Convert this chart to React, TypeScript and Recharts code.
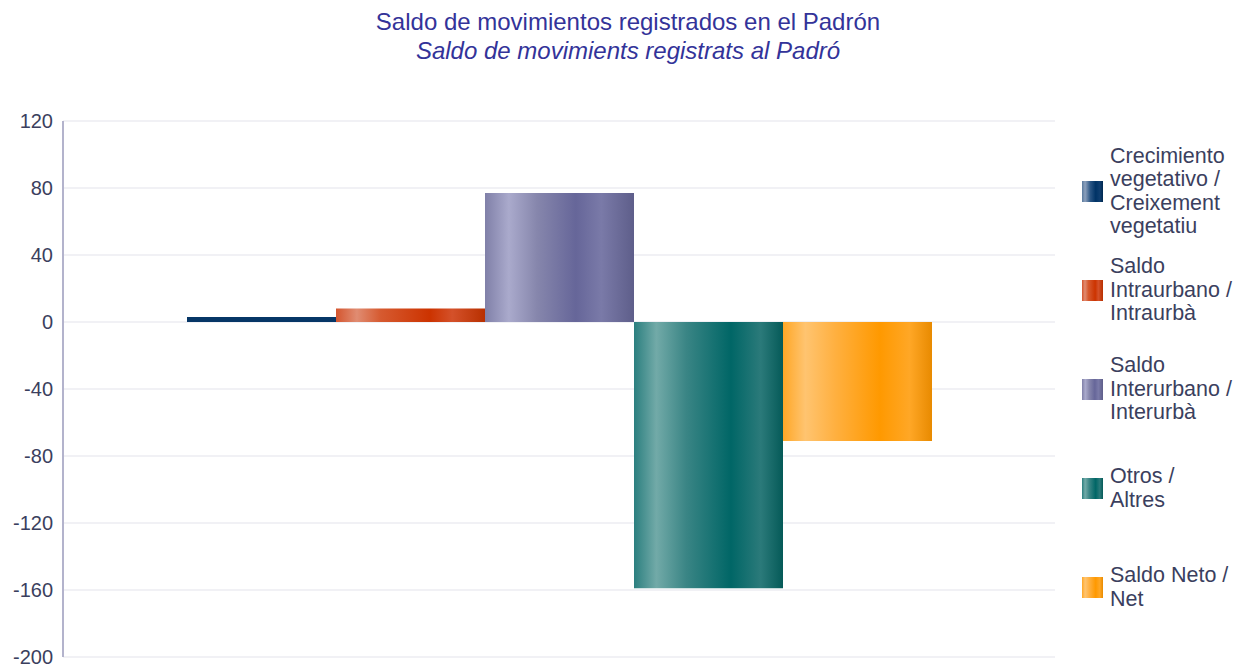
import React from 'react';
import { BarChart, Bar, XAxis, YAxis, CartesianGrid } from 'recharts';

const titleLines = ['Saldo de movimientos registrados en el Padrón', 'Saldo de movimients registrats al Padró'];
const categories = [''];
const seriesKeys = ['crec', 'intra', 'inter', 'otros', 'neto'];
const seriesLabels = [
  'Crecimiento\nvegetativo /\nCreixement\nvegetatiu',
  'Saldo\nIntraurbano /\nIntraurbà',
  'Saldo\nInterurbano /\nInterurbà',
  'Otros /\nAltres',
  'Saldo Neto /\nNet',
];
const crecValues = [3];
const intraValues = [8];
const interValues = [77];
const otrosValues = [-159];
const netoValues = [-71];
const yTicks = [-200, -160, -120, -80, -40, 0, 40, 80, 120];

const seriesValues = [crecValues, intraValues, interValues, otrosValues, netoValues];

const data = categories.map((name, i) => {
  const row: Record<string, string | number> = { name };
  seriesKeys.forEach((k, s) => {
    row[k] = seriesValues[s][i];
  });
  return row;
});

// gradient stops per series: [offset, color]
const gradients: [number, string][][] = [
  [[0, '#5a7a9e'], [0.15, '#8ca0bc'], [0.4, '#2a5584'], [0.65, '#003366'], [0.85, '#0f3e70'], [1, '#002850']],
  [[0, '#d4552e'], [0.14, '#e08c72'], [0.3, '#d65a30'], [0.63, '#cc3300'], [0.78, '#d4512a'], [1, '#b83000']],
  [[0, '#8080a8'], [0.16, '#aaaacc'], [0.35, '#8686ac'], [0.61, '#666699'], [0.78, '#7a7aa8'], [1, '#5e5e8a']],
  [[0, '#2b7f7f'], [0.15, '#72aaa8'], [0.35, '#3a8585'], [0.65, '#006666'], [0.85, '#2b7a7a'], [1, '#055a58']],
  [[0, '#ffa726'], [0.15, '#ffc470'], [0.35, '#ffb040'], [0.65, '#ff9900'], [0.85, '#ffa726'], [1, '#e88a00']],
];
const barFills = ['#063666', 'url(#g1)', 'url(#g2)', 'url(#g3)', 'url(#g4)'];

const FONT = '"Liberation Sans", Arial, Helvetica, sans-serif';
const TEXT = '#3b3f5e';

const cssGradient = (stops: [number, string][]) =>
  `linear-gradient(to right, ${stops.map(([o, c]) => `${c} ${o * 100}%`).join(', ')})`;

export default function App() {
  return (
    <div style={{ position: 'absolute', left: 0, top: 0, width: 1236, height: 665, background: '#fff', fontFamily: FONT, overflow: 'hidden' }}>
      <svg width={0} height={0} style={{ position: 'absolute' }}>
        <defs>
          {gradients.map((stops, i) => (
            <linearGradient key={i} id={`g${i}`} x1="0" y1="0" x2="1" y2="0">
              {stops.map(([o, c], j) => (
                <stop key={j} offset={o} stopColor={c} />
              ))}
            </linearGradient>
          ))}
        </defs>
      </svg>
      <div style={{ position: 'absolute', top: 7, left: 20, width: 1216, textAlign: 'center', color: '#333399', fontSize: 24, lineHeight: '29px' }}>
        <div>{titleLines[0]}</div>
        <div style={{ fontStyle: 'italic' }}>{titleLines[1]}</div>
      </div>
      <div style={{ position: 'absolute', left: 0, top: 0 }}>
        <BarChart width={1236} height={665} data={data} margin={{ top: 121, right: 181, bottom: 8, left: 0 }} barCategoryGap="12.5%" barGap={0}>
          <CartesianGrid vertical={false} stroke="#e4e4ec" strokeWidth={1.2} />
          <XAxis dataKey="name" hide />
          <YAxis
            width={63}
            domain={[-200, 120]}
            ticks={yTicks}
            interval={0}
            tickLine={false}
            tickSize={0}
            tickMargin={10}
            axisLine={{ stroke: '#b3b3cc', strokeWidth: 2 }}
            tick={{ fill: TEXT, fontSize: 20, fontFamily: FONT }}
          />
          {seriesKeys.map((k, i) => (
            <Bar key={k} dataKey={k} name={seriesLabels[i]} fill={barFills[i]} isAnimationActive={false} />
          ))}
        </BarChart>
      </div>
      {seriesKeys.map((k, i) => (
        <div
          key={k}
          style={{ position: 'absolute', left: 1082, top: 142 + i * 99, height: 99, display: 'flex', alignItems: 'center' }}
        >
          <div style={{ width: 21, height: 21, background: cssGradient(gradients[i]), flex: 'none' }} />
          <div style={{ marginLeft: 7, whiteSpace: 'pre-line', color: TEXT, fontSize: 21.5, lineHeight: '23.5px' }}>
            {seriesLabels[i]}
          </div>
        </div>
      ))}
    </div>
  );
}
